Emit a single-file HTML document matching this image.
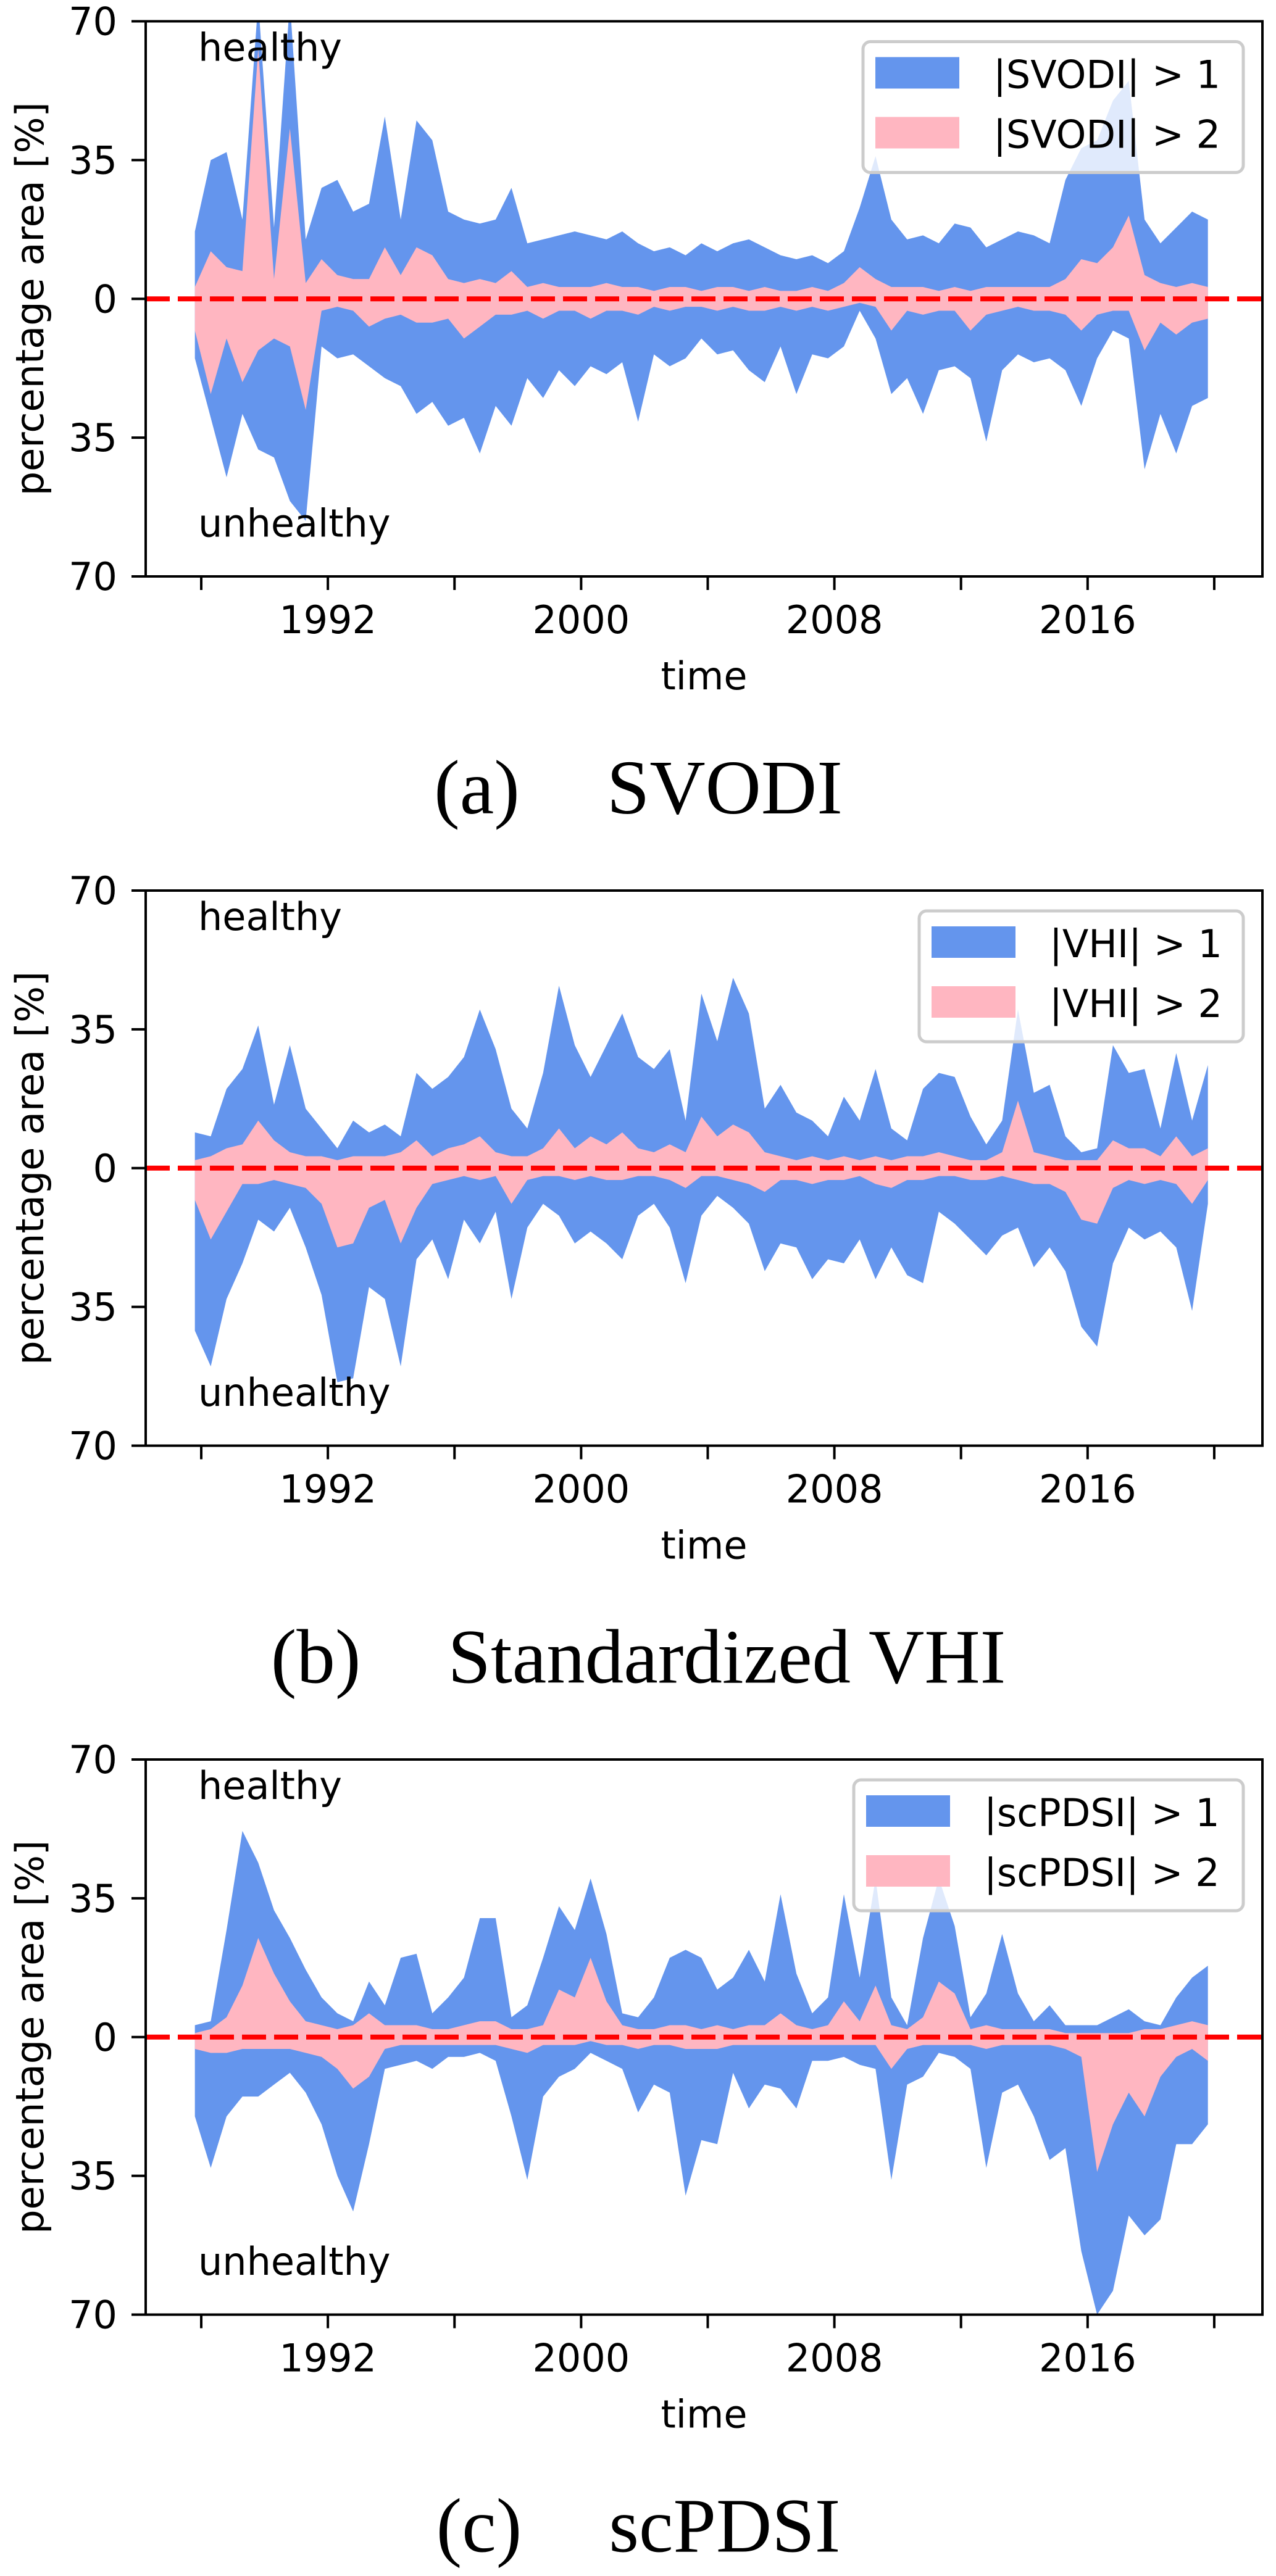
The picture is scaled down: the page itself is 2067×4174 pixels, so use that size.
<!DOCTYPE html>
<html><head><meta charset="utf-8">
<style>
html,body{margin:0;padding:0;background:#fff;}
svg{display:block;}
.t{font-family:"DejaVu Sans","Liberation Sans",sans-serif;fill:#000;}
.cap{font-family:"Liberation Serif",serif;fill:#000;font-size:125px;}
</style></head>
<body>
<svg id="fig" width="2067" height="4174" viewBox="0 0 2067 4174" xmlns="http://www.w3.org/2000/svg"></svg>
<script>
// time grid: start year and step (years)
const tStart = 1987.8;
const tStep = 0.5;
const xTickYears = [1988,1992,1996,2000,2004,2008,2012,2016,2020];
const xTickLabels = ["","1992","","2000","","2008","","2016",""];
const yTickValues = [70,35,0,-35,-70];
const yTickLabels = ["70","35","0","35","70"];

// (a) SVODI
const svodiPos1 = [17,35,37,20,75,18,75,15,28,30,22,24,46,20,45,40,22,20,19,20,28,14,15,16,17,16,15,17,14,12,13,11,14,12,14,15,13,11,10,11,9,12,23,36,20,15,16,14,19,18,13,15,17,16,14,30,38,40,50,55,20,14,18,22,20];
const svodiPos2 = [3,12,8,7,63,5,43,4,10,6,5,5,13,6,13,11,5,4,5,4,7,3,4,3,3,3,4,3,3,2,3,3,2,3,3,2,3,2,2,3,2,4,8,5,3,3,3,2,3,2,3,3,3,3,3,5,10,9,13,21,6,4,3,4,3];
const svodiNeg1 = [15,30,45,29,38,40,51,56,12,15,14,17,20,22,29,26,32,30,39,27,32,20,25,18,22,17,19,16,31,14,17,15,10,14,13,18,21,12,24,14,15,12,3,10,24,20,29,18,17,20,36,18,14,16,15,18,27,15,8,10,43,29,39,27,25];
const svodiNeg2 = [8,24,10,21,13,10,12,28,3,2,3,7,5,4,6,6,5,10,7,4,4,3,5,3,3,5,3,3,4,2,3,2,2,3,2,3,3,2,3,2,3,2,1,2,8,3,4,3,3,8,4,3,2,3,3,4,8,4,3,3,13,6,9,6,5];

// (b) Standardized VHI
const vhiPos1 = [9,8,20,25,36,16,31,15,10,5,12,9,11,8,24,20,23,28,40,30,15,10,24,46,31,23,31,39,28,25,30,12,44,32,48,39,15,21,14,12,8,18,12,25,10,7,20,24,23,13,6,12,40,19,21,8,4,5,31,24,25,10,29,12,26];
const vhiPos2 = [2,3,5,6,12,7,4,3,3,2,3,3,3,4,7,3,5,6,8,4,3,3,5,10,5,8,6,9,5,4,6,4,13,8,11,9,4,3,2,3,2,3,2,3,2,3,3,4,3,2,2,4,17,4,3,2,2,2,7,5,5,3,8,3,5];
const vhiNeg1 = [41,50,33,24,13,16,10,20,32,54,53,30,33,50,23,18,28,13,19,11,33,15,9,12,19,16,19,23,12,9,15,29,12,7,10,14,26,19,20,28,23,24,18,28,20,27,29,11,14,18,22,17,15,25,20,26,40,45,24,15,18,16,20,36,9];
const vhiNeg2 = [8,18,11,4,4,3,4,5,9,20,19,10,8,19,10,4,3,2,3,2,9,3,2,2,3,2,3,3,2,2,3,5,2,2,3,4,6,3,3,4,3,3,2,4,5,3,3,2,2,3,3,2,3,4,4,6,13,14,5,3,4,3,4,9,3];

// (c) scPDSI
const pdsiPos1 = [3,4,27,52,44,32,25,17,10,6,4,14,8,20,21,6,10,15,30,30,5,8,20,33,27,40,26,6,5,10,20,22,20,12,15,22,14,36,16,6,10,36,15,40,10,3,25,40,28,5,11,26,11,4,8,3,3,3,5,7,4,3,10,15,18];
const pdsiPos2 = [1,2,5,13,25,16,9,4,3,2,3,6,3,3,3,2,2,3,4,4,2,2,3,12,10,20,9,3,2,2,3,3,2,3,2,3,3,6,3,2,3,9,4,13,3,2,5,14,11,2,3,2,2,2,2,1,1,1,1,1,2,2,3,4,3];
const pdsiNeg1 = [20,33,20,15,15,12,9,14,22,35,44,27,8,7,6,8,5,5,4,6,20,36,15,10,8,4,6,8,19,12,14,40,26,27,9,18,12,13,18,6,6,5,7,8,36,12,10,4,5,8,33,14,12,20,31,28,54,70,64,45,50,46,27,27,22];
const pdsiNeg2 = [3,4,4,3,3,3,3,4,5,8,13,10,3,2,2,2,2,2,2,2,3,4,2,2,2,1,2,2,3,2,2,3,3,3,2,2,2,2,2,2,2,2,2,2,8,3,2,2,2,2,3,2,2,2,2,3,5,34,22,14,20,10,5,3,6];

const legendLabels = [["|SVODI| > 1","|SVODI| > 2"],["|VHI| > 1","|VHI| > 2"],["|scPDSI| > 1","|scPDSI| > 2"]];
const captionLabels = [["(a)","SVODI"],["(b)","Standardized VHI"],["(c)","scPDSI"]];

const NS = "http://www.w3.org/2000/svg";
const fig = document.getElementById('fig');
function mk(tag, attrs, parent){
  const e = document.createElementNS(NS, tag);
  for (const k in attrs) e.setAttribute(k, attrs[k]);
  (parent||fig).appendChild(e);
  return e;
}
const L = 236, R = 2045;
const panelTops = [34.5, 1443, 2851];
const legendX0 = [1398, 1489, 1383];
const panelData = [
  [svodiPos1, svodiPos2, svodiNeg1, svodiNeg2],
  [vhiPos1, vhiPos2, vhiNeg1, vhiNeg2],
  [pdsiPos1, pdsiPos2, pdsiNeg1, pdsiNeg2]
];
const panelNames = ['svodi','vhi','scpdsi'];
function xOf(year){ return 326 + (year - 1988) * 51.28; }

panelData.forEach((d, p) => {
  const T = panelTops[p], B = T + 899.5, Z = (T + B) / 2, S = (B - T) / 140;
  const yOf = v => Z - v * S;
  const g = mk('g', {});
  
  
  const cp = mk('clipPath', {id: 'clip' + p}, g);
  mk('rect', {x: L, y: T, width: R - L, height: B - T}, cp);
  const plot = mk('g', {'clip-path': 'url(#clip' + p + ')'}, g);
  function band(pos, neg, color, name){
    let pts = [];
    pos.forEach((v, i) => pts.push(xOf(tStart + i * tStep).toFixed(1) + ',' + yOf(v).toFixed(1)));
    for (let i = neg.length - 1; i >= 0; i--) pts.push(xOf(tStart + i * tStep).toFixed(1) + ',' + yOf(-neg[i]).toFixed(1));
    const poly = mk('polygon', {points: pts.join(' '), fill: color}, plot);
    
    
  }
  band(d[0], d[2], '#6495ED', panelNames[p] + '-band-gt1');
  band(d[1], d[3], '#FFB6C1', panelNames[p] + '-band-gt2');
  const zl = mk('line', {x1: L, x2: R, y1: Z, y2: Z, stroke: '#ff0000', 'stroke-width': 8, 'stroke-dasharray': '39 13'}, g);
  
  
  // axes frame
  const fr = mk('rect', {x: L, y: T, width: R - L, height: B - T, fill: 'none', stroke: '#000', 'stroke-width': 4}, g);
  
  
  // y ticks
  yTickValues.forEach((v, i) => {
    mk('line', {x1: 213, x2: L, y1: yOf(v), y2: yOf(v), stroke: '#000', 'stroke-width': 4}, g);
    const tx = mk('text', {x: 190, y: yOf(v) + 22, 'text-anchor': 'end', 'font-size': 62, class: 't'}, g);
    tx.textContent = yTickLabels[i];
    
    
  });
  // x ticks
  xTickYears.forEach((yr, i) => {
    const x = xOf(yr);
    mk('line', {x1: x, x2: x, y1: B, y2: B + 22, stroke: '#000', 'stroke-width': 4}, g);
    if (xTickLabels[i]) {
      const tx = mk('text', {x: x, y: B + 92, 'text-anchor': 'middle', 'font-size': 62, class: 't'}, g);
      tx.textContent = xTickLabels[i];
      
      
    }
  });
  const xt = mk('text', {x: (L + R) / 2, y: B + 183, 'text-anchor': 'middle', 'font-size': 62, class: 't'}, g);
  xt.textContent = 'time';
  
  
  const yt = mk('text', {x: 0, y: 0, 'text-anchor': 'middle', 'font-size': 62, class: 't', transform: 'translate(70,' + Z + ') rotate(-90)'}, g);
  yt.textContent = 'percentage area [%]';
  
  
  const h = mk('text', {x: 321, y: T + 64, 'font-size': 62, class: 't'}, g);
  h.textContent = 'healthy';
  
  
  const u = mk('text', {x: 321, y: T + 835, 'font-size': 62, class: 't'}, g);
  u.textContent = 'unhealthy';
  
  
  // legend
  const lx = legendX0[p];
  const lg = mk('g', {}, g);
  
  
  mk('rect', {x: lx, y: T + 33, width: 2014 - lx, height: 212, rx: 12, fill: 'rgba(255,255,255,0.8)', stroke: '#cccccc', 'stroke-width': 5}, lg);
  const cols = ['#6495ED', '#FFB6C1'];
  [0, 1].forEach(k => {
    const pr = mk('rect', {x: lx + 20, y: T + 58 + k * 97, width: 136, height: 51, fill: cols[k]}, lg);
    
    
    const lt = mk('text', {x: lx + 211, y: T + 108 + k * 97, 'font-size': 62, class: 't'}, lg);
    lt.textContent = legendLabels[p][k];
    
    
  });
  // caption
  const cy = T + 1283.5;
  const c1 = mk('text', {x: 1034 - 141/2, y: cy, 'text-anchor': 'end', class: 'cap'}, g);
  c1.textContent = captionLabels[p][0];
  
  
  const c2 = mk('text', {x: 1034 + 141/2, y: cy, 'text-anchor': 'start', class: 'cap'}, g);
  c2.textContent = captionLabels[p][1];
  
  
});
// center captions as a group: shift so whole caption centered on page
document.querySelectorAll('text.cap').forEach(()=>{});
(function(){
  const caps = Array.from(document.querySelectorAll('text.cap'));
  for (let i = 0; i < caps.length; i += 2) {
    const a = caps[i], b = caps[i+1];
    const wa = a.getComputedTextLength(), wb = b.getComputedTextLength();
    const total = wa + 141 + wb;
    const left = 1034 - total / 2;
    a.setAttribute('text-anchor', 'start');
    a.setAttribute('x', left);
    b.setAttribute('x', left + wa + 141);
  }
})();
</script>
</body></html>
